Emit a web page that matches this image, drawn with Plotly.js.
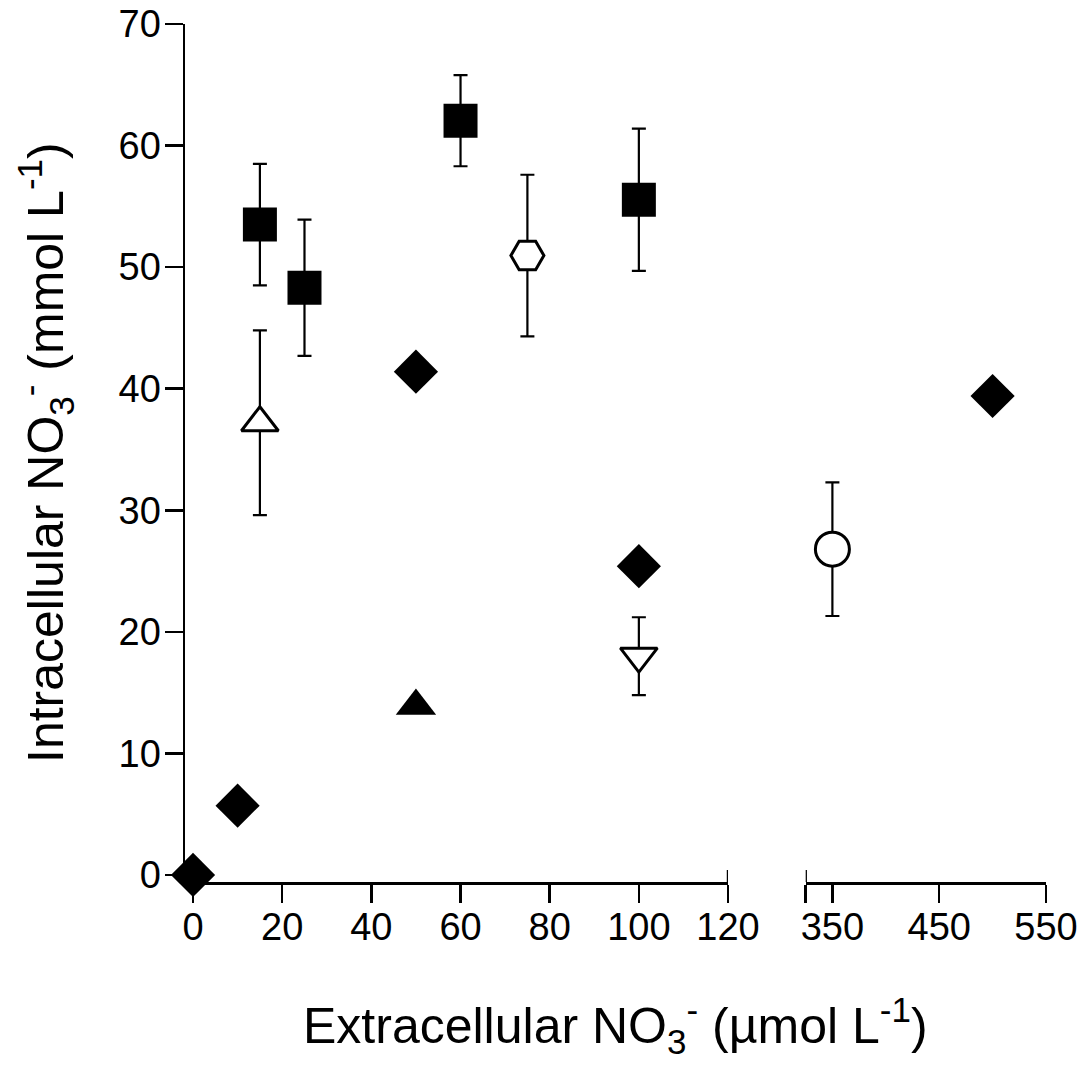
<!DOCTYPE html>
<html>
<head>
<meta charset="utf-8">
<script src="https://cdn.plot.ly/plotly-3.0.1.min.js"></script>
<style>
    html, body { margin: 0; padding: 0; background: #ffffff; }
    #app { width: 1089px; height: 1066px; }
</style>
</head>
<body>
<div id="app"></div>
<script>
// segments of the broken x-axis
let left_range = [-1.8, 120];
let right_range = [325, 550];
let left_ticks = [0, 20, 40, 60, 80, 100, 120];
let right_ticks = [350, 450, 550];
let y_range = [-0.58, 70];
let y_ticks = [0, 10, 20, 30, 40, 50, 60, 70];

// filled squares
let square_x = [15, 25, 60, 100];
let square_y = [53.5, 48.3, 62.05, 55.55];
let square_err = [5.0, 5.6, 3.75, 5.85];

// filled diamonds
let diamond_x = [0, 10, 50, 100, 500];
let diamond_y = [0, 5.7, 41.4, 25.4, 39.4];

// open triangle (up)
let open_up_x = [15];
let open_up_y = [37.2];
let open_up_err = [7.6];

// filled triangle (up)
let filled_up_x = [50];
let filled_up_y = [13.9];

// open hexagon
let hexagon_x = [75];
let hexagon_y = [50.95];
let hexagon_err = [6.65];

// open triangle (down)
let open_down_x = [100];
let open_down_y = [18.0];
let open_down_err = [3.2];

// open circle
let circle_x = [350];
let circle_y = [26.8];
let circle_err = [5.5];

let font_family = '"Liberation Sans", Arial, Helvetica, sans-serif';

function segmentTraces(x, y, err, marker) {
    /**
     * Splits one series over the two x-axis segments.
     */

    let traces = [];
    let segments = [["x", left_range], ["x2", right_range]];
    for (let s = 0; s < segments.length; s++) {
        let axis = segments[s][0];
        let range = segments[s][1];
        let xs = [], ys = [], es = [];
        for (let i = 0; i < x.length; i++) {
            if (x[i] >= range[0] && x[i] <= range[1]) {
                xs.push(x[i]);
                ys.push(y[i]);
                es.push(err ? err[i] : 0);
            }
        }
        if (xs.length === 0) {
            continue;
        }
        let trace = {
            x: xs,
            y: ys,
            xaxis: axis,
            yaxis: "y",
            type: "scatter",
            mode: "markers",
            cliponaxis: false,
            hoverinfo: "skip",
            marker: marker
        };
        if (err) {
            trace.error_y = {
                type: "data",
                array: es,
                visible: true,
                color: "black",
                thickness: 2.2,
                width: 7
            };
        }
        traces.push(trace);
    }
    return traces;
}

function filled(symbol, size) {
    return {symbol: symbol, size: size, color: "black", line: {width: 0}};
}

function open(symbol, size) {
    return {symbol: symbol, size: size, color: "white", line: {color: "black", width: 3}};
}

function breakTick(axis, value) {
    /**
     * Short upward tick marking the end of an axis segment.
     */

    return {
        type: "line",
        xref: axis,
        yref: "paper",
        ysizemode: "pixel",
        yanchor: 0,
        x0: value,
        x1: value,
        y0: 0,
        y1: 12,
        layer: "below",
        line: {color: "black", width: 2.5}
    };
}

function display() {
    /**
     * Draws the broken-axis scatter plot.
     */

    let root = document.getElementById("app");

    let data = [].concat(
        segmentTraces(square_x, square_y, square_err, filled("square", 34)),
        segmentTraces(diamond_x, diamond_y, null, filled("diamond", 34)),
        segmentTraces(open_up_x, open_up_y, open_up_err, open("triangle-up", 32)),
        segmentTraces(filled_up_x, filled_up_y, null, filled("triangle-up", 35)),
        segmentTraces(hexagon_x, hexagon_y, hexagon_err, open("hexagon2", 33)),
        segmentTraces(open_down_x, open_down_y, open_down_err, open("triangle-down", 32)),
        segmentTraces(circle_x, circle_y, circle_err, open("circle", 34))
    );

    let tick_font = {family: font_family, size: 38, color: "black"};
    let base_axis = {
        showgrid: false,
        zeroline: false,
        showline: true,
        linecolor: "black",
        linewidth: 2.5,
        ticks: "outside",
        ticklen: 18,
        tickwidth: 2.5,
        tickcolor: "black",
        tickfont: tick_font,
        fixedrange: true,
        layer: "below traces"
    };

    let layout = {
        width: 1089,
        height: 1066,
        showlegend: false,
        paper_bgcolor: "white",
        plot_bgcolor: "white",
        margin: {l: 185, r: 43, t: 24, b: 184},
        font: {family: font_family, color: "black"},
        xaxis: Object.assign({}, base_axis, {
            domain: [0, 0.6307],
            range: left_range,
            tickmode: "array",
            tickvals: left_ticks,
            ticklabelstandoff: -8,
            anchor: "y"
        }),
        xaxis2: Object.assign({}, base_axis, {
            domain: [0.7209, 1],
            range: right_range,
            tickmode: "array",
            tickvals: [right_range[0]].concat(right_ticks),
            ticktext: [""].concat(right_ticks.map(String)),
            ticklabelstandoff: -8,
            anchor: "y"
        }),
        yaxis: Object.assign({}, base_axis, {
            range: y_range,
            tickmode: "array",
            tickvals: y_ticks,
            ticklabelstandoff: -4,
            anchor: "x"
        }),
        // the break: ends of both segments cross the axis line
        shapes: [
            breakTick("x", left_range[1]),
            breakTick("x2", right_range[0])
        ],
        annotations: [
            {
                xref: "paper",
                yref: "paper",
                x: 0.5,
                y: -0.1667,
                xanchor: "center",
                yanchor: "middle",
                showarrow: false,
                text: "Extracellular NO<sub>3</sub><sup>-</sup> (µmol L<sup>-1</sup>)",
                font: {family: font_family, size: 50, color: "black"}
            },
            {
                xref: "paper",
                yref: "paper",
                x: -0.1626,
                y: 0.5,
                xanchor: "center",
                yanchor: "middle",
                textangle: -90,
                showarrow: false,
                text: "Intracellular NO<sub>3</sub><sup>-</sup> (mmol L<sup>-1</sup>)",
                font: {family: font_family, size: 50, color: "black"}
            }
        ]
    };

    let config = {
        displayModeBar: false,
        staticPlot: true
    };

    Plotly.newPlot(root, data, layout, config);
}

display();
</script>
</body>
</html>
